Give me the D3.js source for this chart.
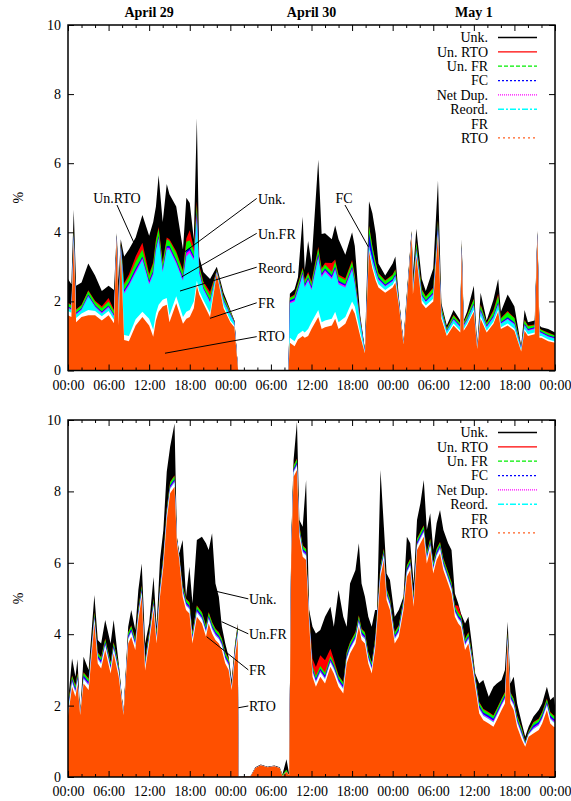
<!DOCTYPE html>
<html>
<head>
<meta charset="utf-8">
<script src="https://cdn.jsdelivr.net/npm/d3@7"></script>
<style>
  body { margin: 0; background: #fff; }
  text { font-family: "Liberation Serif", "Times New Roman", serif; }
</style>
</head>
<body>
<script>
// stacking order, bottom layer first
const keys = ['rto', 'fr', 'reord', 'netdup', 'fc', 'unfr', 'unrto', 'unk'];
const legendNames = ['Unk.', 'Un. RTO', 'Un. FR', 'FC', 'Net Dup.', 'Reord.', 'FR', 'RTO'];
const tickLabels = ['00:00', '06:00', '12:00', '18:00', '00:00', '06:00', '12:00', '18:00', '00:00', '06:00', '12:00', '18:00', '00:00'];
const dayLabels = ['April 29', 'April 30', 'May 1'];
const dayHours = [12, 36, 60];

// ---- upper panel (hours since April 29 00:00, values in %) ----
const hoursTop = [0,0.5,0.85,1.2,2,3,4,5,6,6.8, 7.2,7.5,7.8,8.3,9,10,11,12,12.6,13, 13.4,14,14.6,15,16,17,17.5,18,18.6,19.05,
  19.4,20,21,22,23,24,24.6,25.15,32.6,32.8, 33.5,34,34.7,35,35.5,36,37,37.5,38,39, 39.5,40,41,42,42.4,43.2,43.9,44.5,45,45.5,
  45.9,46.9,48,48.4,48.9,49.6,49.95,50.8,51,51.5, 52.3,52.9,54,54.7,55.2,56,57,58,58.2,58.5, 59,60,60.5,61,61.9,62.9,63.6,64,65,66,
  67,67.5,68,69,69.4,69.7,70,71,72];
const rtoTop = [1.6,1.55,3.7,1.4,1.55,1.6,1.6,1.45,1.6,1.37, 3.85,1.3,3.5,.88,.85,1.3,1.55,1.3,.98,1.45, 1.7,1.85,1.9,1.4,1.95,1.35,1.5,1.55,1.8,2.45,
  2.2,1.95,1.55,2.8,1.8,1.4,1.25,0,0,.8, .7,.9,1.0,.95,1.0,1.2,1.55,1.2,1.25,1.3, 1.5,1.2,1.35,1.8,1.65,1.0,.5,3.45,2.95,2.6,
  2.4,2.25,2.4,2.55,1.9,.75,1.6,3.9,2.2,3.3, 1.95,1.8,2.0,3.9,1.5,1.0,1.3,1.1,3.5,1.15, 1.3,1.7,.62,1.5,1.1,1.35,1.7,1.2,1.3,1.15,
  .55,1.15,1.0,1.05,3.9,.95,.95,.85,.8];
const frTop = [.12,.12,.1,.12,.1,.15,.12,.12,.12,.1, .02,.15,.05,.15,.15,.18,.15,.2,.2,.2, .2,.2,.2,.2,.2,.2,.2,.2,.2,.15,
  .1,.1,.12,.02,.08,.05,.05,0,0,.15, .15,.15,.15,.15,.2,.2,.2,.2,.2,.2, .2,.2,.2,.2,.2,.1,.03,.05,.1,.1,
  .1,.08,.08,.08,.05,.01,.05,.03,.08,.08, .08,.08,.08,.05,.08,.05,.06,.05,.03,.05, .05,.06,.02,.08,.05,.06,.06,.05,.06,.06,
  .03,.05,.05,.05,.02,.05,.05,.05,.04];
const reordTop = [.08,.08,.1,.1,.1,.39,.12,.08,.1,.1, .02,.3,.05,1.2,1.45,1.35,1.5,1.0,1.6,1.8, 1.9,.8,1.4,1.9,.95,1.05,1.6,1.65,1.2,1.8,
  .5,.3,.3,.02,.12,.15,.08,0,0,1.0, 1.15,1.25,1.6,1.3,1.4,.93,1.5,1.3,1.4,1.15, 1.2,1.1,.85,.9,.65,.3,.03,.1,.15,.15,
  .12,.1,.1,.1,.05,.02,.05,.03,.1,.1, .12,.1,.12,.1,.1,.08,.1,.1,.05,.08, .1,.12,.03,.12,.1,.12,.15,.1,.12,.12,
  .06,.1,.1,.1,.03,.1,.08,.08,.08];
const netdupTop = [.02,.02,.03,.02,.02,.02,.02,.03,.03,.02, .01,.03,.02,.05,.05,.06,.05,.05,.05,.05, .05,.05,.05,.05,.05,.05,.1,.08,.05,.1,
  .05,.03,.03,.01,.02,.02,.01,0,0,.03, .04,.04,.05,.04,.05,.05,.05,.05,.05,.05, .05,.05,.05,.05,.04,.02,.01,.03,.03,.03,
  .03,.02,.02,.02,.02,0,.01,.01,.02,.02, .02,.02,.02,.03,.02,.01,.02,.02,.01,.02, .02,.02,.01,.03,.02,.02,.02,.02,.02,.02,
  .01,.02,.02,.02,.01,.02,.01,.01,.01];
const fcTop = [.03,.03,.05,.03,.03,.04,.03,.03,.03,.03, .02,.03,.03,.05,.05,.06,.05,.05,.05,.05, .05,.05,.05,.05,.05,.05,.08,.08,.05,.1,
  .05,.03,.03,.02,.03,.03,.02,0,0,.05, .05,.05,.05,.05,.05,.05,.08,.05,.05,.06, .06,.05,.05,.05,.05,.03,.01,.35,.2,.08,
  .05,.04,.04,.04,.03,.01,.02,.02,.03,.05, .04,.03,.04,.15,.03,.02,.03,.03,.03,.03, .03,.04,.01,.04,.03,.04,.05,.03,.04,.04,
  .02,.03,.03,.03,.02,.03,.03,.03,.03];
const unfrTop = [.1,.08,.1,.08,.08,.1,.1,.1,.12,.1, .01,.1,.05,.15,.15,.2,.2,.15,.2,.2, .2,.15,.2,.15,.2,.15,.25,.2,.15,.2,
  .1,.12,.15,.03,.08,.05,.02,0,0,.07, .08,.1,.1,.1,.1,.1,.15,.12,.12,.1, .15,.12,.12,.15,.12,.05,.01,.2,.15,.15,
  .1,.1,.12,.12,.05,.01,.05,.03,.1,.15, .12,.1,.12,.1,.1,.05,.08,.06,.05,.05, .08,.12,.01,.12,.06,.12,.18,.1,.15,.12,
  .02,.1,.08,.06,.02,.06,.05,.06,.05];
const unrtoTop = [.02,.02,.02,.02,.02,.02,.03,.05,.1,.03, 0,.02,.02,.05,.08,.15,.2,.05,.05,.05, .05,.05,.05,.05,.05,.05,.1,.3,.1,.1,
  .05,.05,.1,.01,.02,.02,.01,0,0,.02, .03,.03,.03,.03,.05,.05,.05,.05,.05,.25, .05,.05,.05,.05,.05,.02,0,.02,.02,.02,
  .02,.02,.02,.02,.01,0,.01,.01,.02,.02, .03,.02,.02,.02,.02,.01,.02,.02,.01,.02, .02,.02,0,.03,.02,.04,.06,.02,.03,.02,
  .01,.02,.02,.02,.01,.02,.01,.02,.01];
const unkTop = [.68,.6,.55,.68,.65,.78,.73,.44,.35,.58, .05,.67,.08,.77,.72,.55,.8,1.1,1.17,.95, 1.5,1.15,1.55,1.3,1.3,.6,1.17,.79,.25,2.4,
  .25,.27,.37,.09,.1,.03,.01,0,0,.1, .15,.18,1.47,.28,.9,.52,2.52,.98,.85,.69, .99,1.03,.68,.8,.84,.08,.01,.7,.95,.82,
  .28,.14,.32,.37,.04,0,.06,.02,.25,.38, .29,.15,.55,1.15,.1,.08,.14,.07,.12,.05, .1,.37,0,.33,.07,.3,.43,.18,.48,.32,
  0,.28,.1,.12,.04,.07,.07,.1,.08];

// ---- lower panel ----
const hoursBot = [0,0.6,1.1,1.4,1.8,2.3,3.05,3.9,4.4,4.9, 5.5,6.3,6.75,7.5,8.2,8.9,9.35,9.95,10.4,10.9, 11.4,12,12.65,13.1,13.6,14.1,14.6,15.1,15.75,16.1,
  16.45,16.95,17.45,17.95,18.4,19.05,19.8,20.4,20.8,21.3, 21.8,22.3,22.75,23.25,23.75,24.2,24.7,25.1,25.2,27, 27.7,28.5,29.5,30.5,31.3,31.7,32.3,32.7,33,33.35,
  33.85,34.2,34.7,35.2,35.65,36.15,36.65,37.3,38,38.8, 39.3,40,40.7,41.2,41.7,42.5,43,43.4,43.9,44.4, 44.9,45.4,45.7,46.2,46.7,47.1,47.6,48.3,48.9,49.6,
  50.1,50.6,51.1,51.6,52.1,52.6,53.05,53.55,54,54.5, 55,55.5,56.2,56.7,57.2,57.7,58.1,58.7,59.2,59.7, 60.2,60.8,61.4,62.2,62.9,63.4,64.1,64.6,65,65.4,
  65.9,66.4,67.1,67.6,68.1,68.8,69.6,70.1,70.8,71.3, 71.8,72];
const rtoBot = [1.7,2.53,2.25,2.6,1.74,2.62,2.44,4.3,3.18,3.04, 3.56,2.9,3.46,2.81,1.74,3.74,3.93,3.56,4.4,5.05, 2.98,3.74,4.68,3.74,5.05,5.89,7.2,7.95,8.13,6.55,
  6.08,5.05,4.68,4.58,3.74,4.49,4.3,3.93,4.3,4.02, 3.84,3.74,3.56,3.18,3.0,2.44,3.37,3.9,0,.02, .25,.33,.27,.3,.25,.02,.15,.05,6.2,8.41,
  8.6,6.73,6.17,6.08,4.3,2.81,2.53,2.81,2.62,3.09, 2.9,2.53,2.34,3.18,3.46,3.74,4.21,3.84,3.74,3.18, 2.9,3.56,4.3,5.61,6.08,4.96,4.68,3.74,3.93,4.68,
  5.61,5.8,4.77,6.36,6.55,6.73,5.98,6.36,5.7,6.08, 6.27,5.8,5.42,5.14,4.49,4.3,4.21,3.56,3.74,3.18, 2.53,1.78,1.59,1.5,1.41,1.6,1.88,2.06,3.74,2.06,
  1.88,1.41,1.04,.85,1.13,1.22,1.32,1.5,1.88,1.5, 1.41,1.4];
const frBot = [.12,.12,.12,.12,.02,.12,.12,.12,.12,.12, .12,.12,.12,.12,.02,.12,.12,.12,.12,.12, .12,.12,.12,.12,.12,.12,.12,.12,.12,.06,
  .06,.12,.12,.12,.12,.12,.12,.12,.12,.12, .12,.12,.12,.12,.12,.06,.12,.12,0,0, 0,0,0,0,0,0,0,0,.12,.12,
  .12,.12,.12,.12,.12,.12,.12,.12,.12,.12, .12,.12,.12,.12,.12,.12,.12,.12,.12,.12, .12,.12,.12,.12,.12,.12,.12,.12,.12,.12,
  .12,.12,.12,.12,.12,.12,.12,.12,.12,.12, .12,.12,.12,.12,.12,.12,.12,.12,.12,.12, .12,.12,.12,.12,.12,.12,.12,.12,.12,.12,
  .12,.12,.12,.06,.06,.12,.12,.12,.12,.12, .12,.12];
const reordBot = [.02,.02,.02,.02,0,.02,.02,.02,.02,.02, .02,.02,.02,.02,0,.02,.02,.02,.02,.02, .02,.02,.02,.02,.02,.02,.02,.02,.02,.01,
  .01,.02,.02,.02,.02,.02,.02,.02,.02,.02, .02,.02,.02,.02,.02,.01,.02,.02,0,0, 0,0,0,0,0,0,0,0,.02,.02,
  .02,.02,.02,.02,.02,.02,.02,.02,.02,.02, .02,.02,.02,.02,.02,.02,.02,.02,.02,.02, .02,.02,.02,.02,.02,.02,.02,.02,.02,.02,
  .02,.02,.02,.02,.02,.02,.02,.02,.02,.02, .02,.02,.02,.02,.02,.02,.02,.02,.02,.02, .02,.02,.02,.02,.02,.02,.02,.02,.02,.02,
  .02,.02,.02,.01,.01,.02,.02,.02,.02,.02, .02,.02];
const netdupBot = [.03,.03,.03,.03,0,.03,.03,.03,.03,.03, .03,.03,.03,.03,0,.03,.03,.03,.03,.03, .03,.03,.03,.03,.03,.03,.03,.03,.03,.01,
  .01,.03,.03,.03,.03,.03,.03,.03,.03,.03, .03,.03,.03,.03,.03,.01,.03,.03,0,0, 0,0,0,0,0,0,0,0,.03,.03,
  .03,.03,.03,.03,.03,.03,.03,.03,.03,.03, .03,.03,.03,.03,.03,.03,.03,.03,.03,.03, .03,.03,.03,.03,.03,.03,.03,.03,.03,.03,
  .03,.03,.03,.03,.03,.03,.03,.03,.03,.03, .03,.03,.03,.03,.03,.03,.03,.03,.03,.03, .03,.03,.03,.03,.03,.03,.03,.03,.03,.03,
  .03,.03,.03,.01,.01,.03,.03,.03,.03,.03, .03,.03];
const fcBot = [.05,.05,.05,.05,.01,.05,.05,.05,.05,.05, .05,.05,.05,.05,.01,.05,.05,.05,.05,.05, .05,.05,.05,.05,.05,.05,.05,.05,.05,.02,
  .02,.05,.05,.05,.05,.05,.05,.05,.05,.05, .05,.05,.05,.05,.05,.02,.05,.05,0,0, 0,0,0,0,0,0,0,0,.05,.05,
  .05,.05,.05,.05,.05,.05,.05,.05,.05,.05, .05,.05,.05,.05,.05,.05,.05,.05,.05,.05, .05,.05,.05,.05,.05,.05,.05,.05,.05,.05,
  .05,.05,.05,.05,.05,.05,.05,.05,.05,.05, .05,.05,.05,.05,.05,.05,.05,.05,.05,.05, .05,.05,.05,.05,.05,.05,.05,.05,.05,.05,
  .05,.05,.05,.02,.02,.05,.05,.05,.05,.05, .05,.05];
const unfrBot = [.08,.08,.08,.08,.01,.08,.08,.08,.08,.08, .08,.08,.08,.08,.01,.08,.08,.08,.08,.08, .08,.08,.08,.08,.08,.08,.08,.08,.08,.04,
  .04,.08,.08,.08,.08,.08,.08,.08,.08,.08, .08,.08,.08,.08,.08,.04,.08,.08,0,0, 0,0,0,0,0,.04,.05,0,.08,.08,
  .08,.08,.08,.08,.08,.08,.08,.08,.08,.08, .08,.08,.08,.08,.08,.08,.08,.08,.08,.08, .08,.08,.08,.08,.08,.08,.08,.08,.08,.08,
  .08,.08,.08,.08,.08,.08,.08,.08,.08,.08, .08,.08,.08,.08,.08,.08,.08,.08,.08,.08, .08,.08,.08,.08,.08,.08,.08,.08,.08,.08,
  .08,.08,.08,.04,.04,.08,.08,.08,.08,.08, .08,.08];
const unrtoBot = [.02,.02,.02,.02,0,.02,.02,.02,.02,.02, .02,.02,.02,.02,0,.02,.02,.02,.02,.02, .02,.02,.02,.02,.02,.02,.02,.02,.02,.01,
  .01,.02,.02,.02,.02,.02,.02,.02,.02,.02, .02,.02,.02,.02,.02,.01,.02,.02,0,0, 0,0,0,0,0,0,0,0,.02,.02,
  .02,.02,.02,.02,.02,.2,.25,.3,.35,.2, .1,.02,.02,.02,.02,.02,.02,.02,.02,.02, .02,.02,.02,.02,.02,.02,.02,.02,.02,.02,
  .02,.02,.02,.02,.02,.02,.02,.02,.02,.02, .02,.02,.02,.02,.02,.2,.02,.02,.02,.02, .02,.02,.02,.02,.02,.02,.02,.02,.02,.02,
  .02,.02,.02,.01,.01,.02,.02,.02,.02,.02, .02,.02];
const unkBot = [.08,.47,.24,.38,0,.43,.24,.48,.34,.38, .52,.52,.62,.05,0,.15,.43,.24,.52,.61, .44,.24,.6,.15,.71,.71,1.03,.98,1.45,.03,
  .04,1.27,.05,.99,.81,1.83,2.11,2.3,1.74,2.49, 1.26,.99,.33,.24,.05,.13,.05,.08,0,.01, .02,.02,.02,.02,.02,.01,.3,.03,.03,.15,
  1.03,.15,.52,1.92,.06,.9,.94,.71,1.22,1.18, .91,2.39,1.83,.71,1.64,1.74,2.02,1.26,.99,.99, .99,.8,.06,2.67,.61,.42,.52,.43,.43,.05,
  .8,.43,.33,.52,.8,1.27,.62,.71,.34,.71, .89,.8,.81,.9,.33,.06,.05,.42,.43,.24, .05,.52,.81,.43,.8,.7,.52,.62,.29,.24,
  .61,.33,.14,.13,.13,.15,.24,.24,.33,.34, .52,.28];

const fills = {
  rto: '#ff5000', fr: '#ffffff', reord: '#00ffff', netdup: '#ff00ff',
  fc: '#0000ff', unfr: '#00ff00', unrto: '#ff0000', unk: '#000000'
};
// legend line samples, same order as legendNames
const legendLines = [
  { c: '#000000', dash: null },
  { c: '#ff0000', dash: null },
  { c: '#00ee00', dash: '4,2' },
  { c: '#0000ff', dash: '2,2' },
  { c: '#ff00ff', dash: '1,1' },
  { c: '#00ffff', dash: '6,2,2,2' },
  { c: '#ffffff', dash: null },
  { c: '#ff6020', dash: '2,3' },
];

function toRows(hours, s) {
  return hours.map((h, i) => {
    const r = { h };
    keys.forEach((k) => (r[k] = s[k][i]));
    return r;
  });
}

const rowsTop = toRows(hoursTop, {
  rto: rtoTop, fr: frTop, reord: reordTop, netdup: netdupTop,
  fc: fcTop, unfr: unfrTop, unrto: unrtoTop, unk: unkTop,
});
const rowsBot = toRows(hoursBot, {
  rto: rtoBot, fr: frBot, reord: reordBot, netdup: netdupBot,
  fc: fcBot, unfr: unfrBot, unrto: unrtoBot, unk: unkBot,
});

// annotations: text anchor and pointer line in data units (hours, %)
const notesTop = [
  { t: 'Un.RTO', at: [7.24, 4.85], anchor: 'middle', line: [[7.24, 4.79], [9.9, 3.63]] },
  { t: 'Unk.', at: [28.09, 4.82], anchor: 'start', line: [[27.9, 4.98], [17.3, 3.44]] },
  { t: 'Un.FR', at: [28.09, 3.81], anchor: 'start', line: [[27.9, 3.97], [16.81, 2.71]] },
  { t: 'Reord.', at: [28.09, 2.82], anchor: 'start', line: [[27.9, 2.99], [16.56, 2.3]] },
  { t: 'FR', at: [28.09, 1.81], anchor: 'start', line: [[27.9, 1.96], [20.99, 1.51]] },
  { t: 'RTO', at: [28.09, 0.84], anchor: 'start', line: [[27.9, 0.98], [14.34, 0.5]] },
  { t: 'FC', at: [40.8, 4.85], anchor: 'middle', line: [[40.95, 4.79], [44.4, 3.58]] },
];
const notesBot = [
  { t: 'Unk.', at: [26.76, 4.85], anchor: 'start', line: [[26.66, 4.99], [21.48, 5.22]] },
  { t: 'Un.FR', at: [26.76, 3.87], anchor: 'start', line: [[26.66, 4.01], [22.72, 4.35]] },
  { t: 'FR', at: [26.76, 2.86], anchor: 'start', line: [[26.66, 3.0], [20.5, 3.93]] },
  { t: 'RTO', at: [26.76, 1.85], anchor: 'start', line: [[26.66, 1.99], [25.18, 1.94]] },
];

const svg = d3.select('body').append('svg').attr('width', 571).attr('height', 801);

function panel(rows, top, bottom, showDates, notes) {
  const x = d3.scaleLinear().domain([0, 72]).range([68, 555]);
  const y = d3.scaleLinear().domain([0, 10]).range([bottom, top]);
  const g = svg.append('g');

  // cumulative layers, each filled from zero, top layer painted first
  const stacked = d3.stack().keys(keys)(rows);
  for (let i = stacked.length - 1; i >= 0; i--) {
    g.append('path')
      .datum(stacked[i])
      .attr('fill', fills[keys[i]])
      .attr('d', d3.area().x((d) => x(d.data.h)).y0(y(0)).y1((d) => y(d[1])));
  }

  const major = d3.range(0, 73, 6);
  const minor = d3.range(0, 73, 2).filter((h) => h % 6 !== 0);
  const font = (s) =>
    s.attr('font-family', '"Liberation Serif", serif').attr('font-size', 14)
      .call((a) => a.select('.domain').remove());

  g.append('g').attr('transform', `translate(0,${bottom})`)
    .call(d3.axisBottom(x).tickValues(major).tickFormat((d, i) => tickLabels[i]).tickSize(-6).tickPadding(9.5))
    .call(font);
  g.append('g').attr('transform', `translate(0,${bottom})`)
    .call(d3.axisBottom(x).tickValues(minor).tickFormat('').tickSize(-3)).call(font);
  g.append('g').attr('transform', `translate(0,${top})`)
    .call(d3.axisTop(x).tickValues(major).tickFormat('').tickSize(-6)).call(font);
  g.append('g').attr('transform', `translate(0,${top})`)
    .call(d3.axisTop(x).tickValues(minor).tickFormat('').tickSize(-3)).call(font);
  g.append('g').attr('transform', 'translate(68,0)')
    .call(d3.axisLeft(y).tickValues([0, 2, 4, 6, 8, 10]).tickSize(-6).tickPadding(7))
    .call(font);
  g.append('g').attr('transform', 'translate(555,0)')
    .call(d3.axisRight(y).tickValues([0, 2, 4, 6, 8, 10]).tickFormat('').tickSize(-6))
    .call(font);

  g.append('rect')
    .attr('x', 68).attr('y', top)
    .attr('width', 555 - 68).attr('height', bottom - top)
    .attr('fill', 'none').attr('stroke', '#000').attr('stroke-width', 1.5);

  g.append('text')
    .attr('transform', `translate(18,${(top + bottom) / 2}) rotate(-90)`)
    .attr('text-anchor', 'middle').attr('dy', '0.35em')
    .attr('font-size', 14).text('%');

  if (showDates) {
    g.selectAll('.day').data(dayLabels).enter().append('text')
      .attr('class', 'day')
      .attr('x', (d, i) => x(dayHours[i])).attr('y', top - 8)
      .attr('text-anchor', 'middle').attr('font-size', 14).attr('font-weight', 'bold')
      .text((d) => d);
  }

  // legend
  const lg = g.append('g');
  legendNames.forEach((name, i) => {
    const cy = top + 12.5 + i * 14.35;
    lg.append('text').attr('x', 488).attr('y', cy).attr('dy', '0.35em')
      .attr('text-anchor', 'end').attr('font-size', 14).text(name);
    lg.append('line').attr('x1', 498).attr('x2', 537).attr('y1', cy).attr('y2', cy)
      .attr('stroke', legendLines[i].c).attr('stroke-width', 1.3)
      .attr('stroke-dasharray', legendLines[i].dash);
  });

  // pointer labels
  notes.forEach((n) => {
    g.append('line')
      .attr('x1', x(n.line[0][0])).attr('y1', y(n.line[0][1]))
      .attr('x2', x(n.line[1][0])).attr('y2', y(n.line[1][1]))
      .attr('stroke', '#000').attr('stroke-width', 1);
    g.append('text')
      .attr('x', x(n.at[0])).attr('y', y(n.at[1]))
      .attr('text-anchor', n.anchor).attr('font-size', 14).text(n.t);
  });
}

panel(rowsTop, 25, 370.5, true, notesTop);
panel(rowsBot, 420, 777, false, notesBot);
</script>
</body>
</html>
